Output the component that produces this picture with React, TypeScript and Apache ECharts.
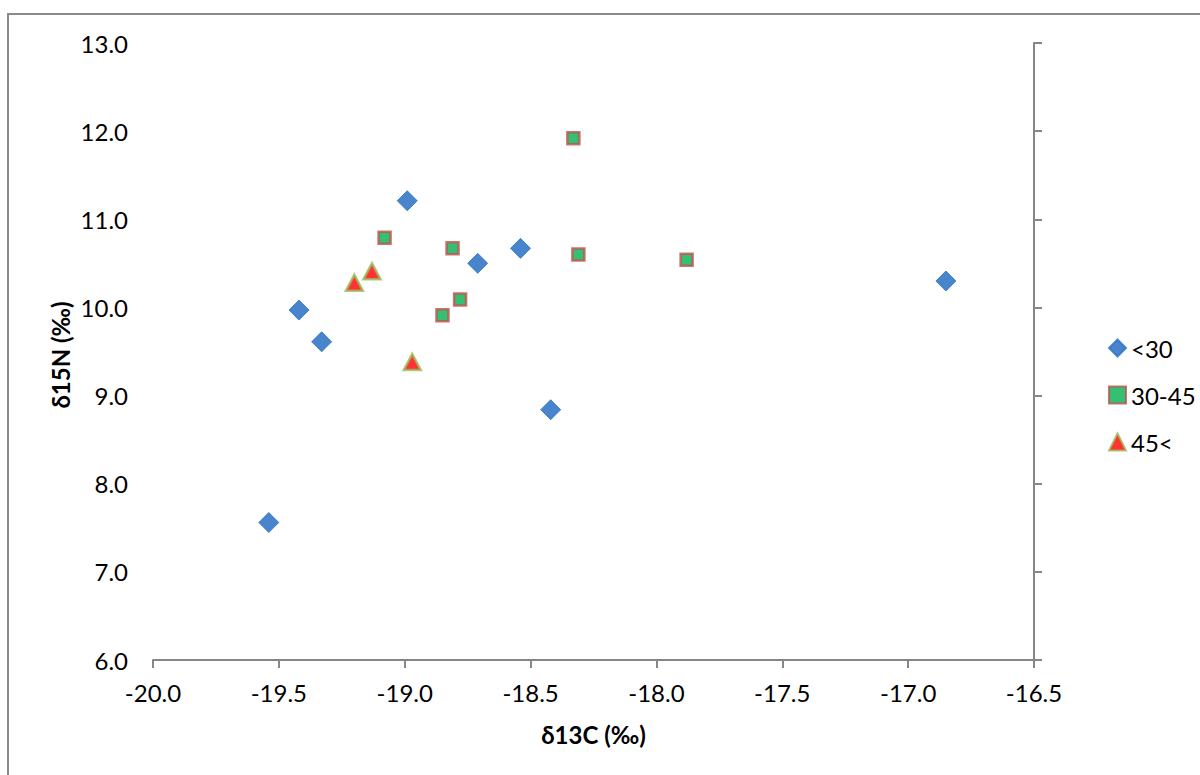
import React, { useEffect, useRef } from "react";
import * as echarts from "echarts";

const seriesNames = ["<30", "30-45", "45<"];

const under30: [number, number][] = [
  [-19.54, 7.56],
  [-19.42, 9.97],
  [-19.33, 9.61],
  [-18.99, 11.21],
  [-18.71, 10.5],
  [-18.54, 10.67],
  [-18.42, 8.84],
  [-16.85, 10.3],
];

const from30to45: [number, number][] = [
  [-18.33, 11.92],
  [-19.08, 10.79],
  [-18.81, 10.67],
  [-18.31, 10.6],
  [-17.88, 10.54],
  [-18.78, 10.09],
  [-18.85, 9.91],
];

const over45: [number, number][] = [
  [-19.2, 10.28],
  [-19.13, 10.41],
  [-18.97, 9.38],
];

const xTitle = "δ13C (‰)";
const yTitle = "δ15N (‰)";

const FONT = "Lato, 'Noto Sans', sans-serif";

export default function App() {
  const ref = useRef<HTMLDivElement>(null);
  useEffect(() => {
    document.body.style.margin = "0";
    const chart = echarts.init(ref.current!, null, { renderer: "svg" });
    const axisColor = "#868686";
    chart.setOption({
      animation: false,
      backgroundColor: "#ffffff",
      textStyle: { fontFamily: FONT },
      grid: { left: 153, right: 166, top: 43, bottom: 115 },
      graphic: [
        {
          type: "rect",
          shape: { x: 8, y: 14, width: 1300, height: 900 },
          style: { fill: "none", stroke: "#8a8a8a", lineWidth: 2 },
          silent: true,
        },
        {
          type: "text",
          x: 60,
          y: 355,
          rotation: Math.PI / 2,
          style: {
            text: yTitle,
            font: `bold 24px ${FONT}`,
            fill: "#000",
            align: "center",
            verticalAlign: "middle",
          },
        },
      ],
      xAxis: {
        type: "value",
        min: -20,
        max: -16.5,
        interval: 0.5,
        name: xTitle,
        nameLocation: "middle",
        nameGap: 62,
        nameTextStyle: { fontFamily: FONT, fontSize: 24, fontWeight: "bold", color: "#000" },
        axisLine: { show: true, onZero: false, lineStyle: { color: axisColor, width: 2 } },
        axisTick: { show: true, inside: false, length: 8, lineStyle: { color: axisColor, width: 2 } },
        axisLabel: {
          fontFamily: FONT,
          fontSize: 24,
          color: "#000",
          margin: 20,
          formatter: (v: number) => v.toFixed(1),
        },
        splitLine: { show: false },
      },
      yAxis: [
        {
          type: "value",
          min: 6,
          max: 13,
          interval: 1,
          position: "left",
          axisLine: { show: false },
          axisTick: { show: false },
          axisLabel: {
            fontFamily: FONT,
            fontSize: 24,
            color: "#000",
            margin: 25,
            formatter: (v: number) => v.toFixed(1),
          },
          splitLine: { show: false },
        },
        {
          type: "value",
          min: 6,
          max: 13,
          interval: 1,
          position: "right",
          axisLine: { show: true, onZero: false, lineStyle: { color: axisColor, width: 2 } },
          axisTick: { show: true, inside: false, length: 8, lineStyle: { color: axisColor, width: 2 } },
          axisLabel: { show: false },
          splitLine: { show: false },
        },
      ],
      legend: {
        orient: "vertical",
        left: 1103,
        top: 330,
        itemWidth: 17,
        itemHeight: 17,
        itemGap: 21,
        data: seriesNames,
        textStyle: { fontFamily: FONT, fontSize: 24, color: "#000", lineHeight: 26 },
      },
      series: [
        {
          name: seriesNames[0],
          type: "scatter",
          symbol: "diamond",
          symbolSize: 20,
          data: under30,
          itemStyle: { color: "#1a67c1", borderColor: "#2c73c6", borderWidth: 1 },
        },
        {
          name: seriesNames[1],
          type: "scatter",
          symbol: "rect",
          symbolSize: 12,
          data: from30to45,
          itemStyle: { color: "#00b050", borderColor: "#c0504d", borderWidth: 2.5 },
        },
        {
          name: seriesNames[2],
          type: "scatter",
          symbol: "triangle",
          symbolSize: [17, 16],
          data: over45,
          itemStyle: { color: "#ff0000", borderColor: "#9bbb59", borderWidth: 2.5 },
        },
      ],
    });
    return () => chart.dispose();
  }, []);
  return <div ref={ref} style={{ width: 1200, height: 775 }} />;
}
